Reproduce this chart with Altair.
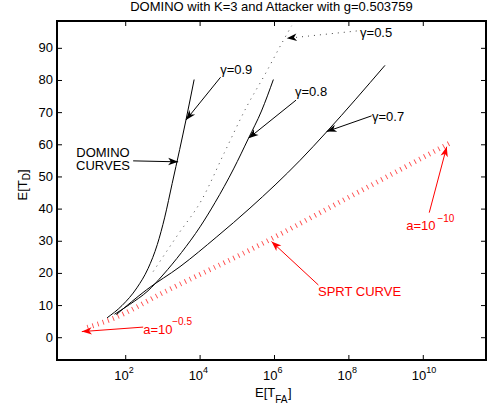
import math
import altair as alt
import pandas as pd

FONT = "Liberation Sans"

# Axis window: log10 E[T_FA] on x, E[T_D] on y
X_LOG_MIN, X_LOG_MAX = 0.153, 11.686
Y_MIN, Y_MAX = -6.93, 98.5
W, H = 429, 339

# DOMINO curves (K=3): log10 E[T_FA] and E[T_D] per gamma
g09_log_tfa = [1.50, 1.90, 2.30, 2.60, 2.85, 3.05, 3.25, 3.45, 3.62, 3.84]
g09_td = [6.2, 10.0, 15.5, 21.5, 29.0, 37.5, 48.0, 58.5, 67.7, 80.3]

g08_log_tfa = [1.70, 2.10, 2.60, 3.00, 3.50, 4.00, 4.40, 4.90, 5.30, 5.65, 5.97]
g08_td = [7.3, 10.3, 14.6, 19.5, 26.5, 34.5, 42.0, 52.5, 62.0, 70.5, 80.3]

g07_log_tfa = [1.75, 2.56, 3.46, 4.45, 5.34, 6.69, 7.40, 8.97]
g07_td = [7.2, 14.9, 22.1, 31.4, 40.3, 55.2, 64.0, 84.7]

g05_log_tfa = [2.74, 3.40, 4.04, 4.65, 5.25, 5.75, 6.24, 6.46]
g05_td = [20.6, 32.0, 42.8, 57.5, 71.8, 82.0, 92.5, 97.0]

# SPRT curve
sprt_log_tfa = [0.97, 1.67, 3.00, 5.34, 8.03, 10.72]
sprt_td = [3.2, 6.0, 14.0, 27.3, 43.9, 60.6]

# Tick positions
y_ticks = [0, 10, 20, 30, 40, 50, 60, 70, 80, 90]
x_tick_exponents = [2, 4, 6, 8, 10]

xs = alt.Scale(type="log", domain=[10 ** X_LOG_MIN, 10 ** X_LOG_MAX], nice=False)
ys = alt.Scale(domain=[Y_MIN, Y_MAX], nice=False, zero=False)


def X(f="x"):
    return alt.X(f"{f}:Q", scale=xs, axis=None)


def Y(f="y"):
    return alt.Y(f"{f}:Q", scale=ys, axis=None)


def px(lx):
    return (lx - X_LOG_MIN) / (X_LOG_MAX - X_LOG_MIN) * W


def py(v):
    return (Y_MAX - v) / (Y_MAX - Y_MIN) * H


def curve_df(log_tfa, td):
    return pd.DataFrame({"x": [10 ** v for v in log_tfa], "y": td})


solid = [
    alt.Chart(curve_df(a, b)).mark_line(color="black", strokeWidth=1, interpolate="monotone", clip=True)
    .encode(x=X(), y=Y())
    for a, b in [(g09_log_tfa, g09_td), (g08_log_tfa, g08_td), (g07_log_tfa, g07_td)]
]
dotted = alt.Chart(curve_df(g05_log_tfa, g05_td)).mark_line(
    color="#444444", strokeWidth=1, strokeDash=[1, 5], interpolate="monotone", clip=True
).encode(x=X(), y=Y())
sprt = alt.Chart(curve_df(sprt_log_tfa, sprt_td)).mark_line(
    color="#ff2a2a", strokeWidth=5, strokeDash=[0.9, 4.5], strokeCap="butt",
    interpolate="monotone", clip=True, opacity=0.85
).encode(x=X(), y=Y())

# Annotation arrows: tail (log10 x, y) -> tip (log10 x, y)
arrow_tail_lx = [4.55, 6.58, 8.61, 2.20, 7.18, 10.16, 2.47]
arrow_tail_y = [81.0, 73.9, 69.0, 55.0, 16.4, 38.9, 3.3]
arrow_tip_lx = [3.62, 5.30, 7.40, 3.41, 5.92, 10.63, 0.82]
arrow_tip_y = [67.7, 62.0, 64.1, 54.7, 29.9, 59.4, 1.9]
arrow_color = ["black", "black", "black", "black", "#ff0000", "#ff0000", "#ff0000"]

dotted_tail_lx, dotted_tail_y = [8.21], [95.4]
dotted_tip_lx, dotted_tip_y = [6.33], [93.1]


def arrow_df(tlx, ty, hlx, hy, colors):
    rows = []
    for a, b, c, d, col in zip(tlx, ty, hlx, hy, colors):
        ang = math.degrees(math.atan2(py(d) - py(b), px(c) - px(a))) % 360
        rows.append({"x": 10 ** a, "y": b, "x2": 10 ** c, "y2": d, "angle": ang, "color": col})
    return pd.DataFrame(rows)


arrows = arrow_df(arrow_tail_lx, arrow_tail_y, arrow_tip_lx, arrow_tip_y, arrow_color)
darrows = arrow_df(dotted_tail_lx, dotted_tail_y, dotted_tip_lx, dotted_tip_y, ["black"])

HEAD = "M0,0 L-2,-0.75 L-1.45,0 L-2,0.75 Z"

shafts = alt.Chart(arrows).mark_rule(strokeWidth=1).encode(
    x=X(), y=Y(), x2="x2:Q", y2="y2:Q", color=alt.Color("color:N", scale=None)
)
dshaft = alt.Chart(darrows).mark_rule(strokeWidth=1, strokeDash=[1, 5], color="#444444").encode(
    x=X(), y=Y(), x2="x2:Q", y2="y2:Q"
)
heads = alt.Chart(pd.concat([arrows, darrows])).mark_point(
    shape=HEAD, filled=True, size=100, opacity=1, strokeWidth=0
).encode(
    x=alt.X("x2:Q", scale=xs, axis=None), y=alt.Y("y2:Q", scale=ys, axis=None),
    angle=alt.Angle("angle:Q", scale=None), color=alt.Color("color:N", scale=None)
)

# Annotation texts (left edge at log10 x, vertical centre at y)
note_text = ["\u03b3=0.5", "\u03b3=0.9", "\u03b3=0.8", "\u03b3=0.7", "SPRT CURVE", "a=10", "a=10"]
note_lx = [8.30, 4.54, 6.55, 8.62, 7.17, 9.54, 2.47]
note_y = [94.9, 83.2, 76.4, 68.6, 14.2, 34.7, 2.4]
note_color = ["black", "black", "black", "black", "#ff0000", "#ff0000", "#ff0000"]

sup_text = ["\u221210", "\u22120.5"]
sup_lx = [10.38, 3.25]
sup_y = [36.9, 4.9]

domino_text = ["DOMINO", "CURVES"]
domino_lx = [1.39, 1.39]
domino_y = [57.6, 53.4]

notes = alt.Chart(pd.DataFrame({
    "x": [10 ** v for v in note_lx], "y": note_y, "t": note_text, "c": note_color
})).mark_text(align="left", baseline="middle", font=FONT, fontSize=13).encode(
    x=X(), y=Y(), text="t:N", color=alt.Color("c:N", scale=None)
)
sups = alt.Chart(pd.DataFrame({
    "x": [10 ** v for v in sup_lx], "y": sup_y, "t": sup_text
})).mark_text(align="left", baseline="middle", font=FONT, fontSize=10, color="#ff0000").encode(
    x=X(), y=Y(), text="t:N"
)
domino = alt.Chart(pd.DataFrame({
    "x": [10 ** v for v in domino_lx], "y": domino_y, "t": domino_text
})).mark_text(align="center", baseline="middle", font=FONT, fontSize=13, color="black").encode(
    x=X(), y=Y(), text="t:N"
)

# Inward ticks on all four sides
yt = pd.DataFrame({"y": y_ticks})
xt = pd.DataFrame({"x": [10 ** e for e in x_tick_exponents], "e": [str(e) for e in x_tick_exponents]})
tick_style = dict(color="black", strokeWidth=1)
ticks = [
    alt.Chart(yt).mark_rule(**tick_style).encode(y=Y(), x=alt.value(0), x2=alt.value(5)),
    alt.Chart(yt).mark_rule(**tick_style).encode(y=Y(), x=alt.value(W - 5), x2=alt.value(W)),
    alt.Chart(xt).mark_rule(**tick_style).encode(x=X(), y=alt.value(H - 5), y2=alt.value(H)),
    alt.Chart(xt).mark_rule(**tick_style).encode(x=X(), y=alt.value(0), y2=alt.value(5)),
]

ylabels = alt.Chart(yt).mark_text(align="right", baseline="middle", font=FONT, fontSize=13, dx=-4).encode(
    y=Y(), x=alt.value(0), text="y:Q"
)
xlab_base = alt.Chart(xt).transform_calculate(b="'10'").mark_text(
    align="right", baseline="middle", font=FONT, fontSize=13, dx=3
).encode(x=X(), y=alt.value(H + 16), text="b:N")
xlab_exp = alt.Chart(xt).mark_text(
    align="left", baseline="middle", font=FONT, fontSize=9, dx=3
).encode(x=X(), y=alt.value(H + 10), text="e:N")


def label(txt, x, y, size=13, angle=0, align="left", color="black"):
    return alt.Chart(pd.DataFrame({"t": [txt]})).mark_text(
        align=align, baseline="middle", font=FONT, fontSize=size, angle=angle, color=color
    ).encode(x=alt.value(x), y=alt.value(y), text="t:N")


title = label("DOMINO with K=3 and Attacker with g=0.503759", W / 2, -14, align="center")

# x title E[T_FA]
xt1 = label("E[T", 198, 371.5)
xt2 = label("FA", 218.2, 379, size=10)
xt3 = label("]", 231, 371.5)
# y title E[T_D], rotated
yt1 = label("E[T", -34, 179.5, angle=270)
yt2 = label("D", -30, 159.3, size=10, angle=270)
yt3 = label("]", -34, 152.1, angle=270)

chart = alt.layer(
    sprt, dotted, *solid, shafts, dshaft, heads, notes, sups, domino,
    *ticks, ylabels, xlab_base, xlab_exp, title, xt1, xt2, xt3, yt1, yt2, yt3
).properties(
    width=W, height=H,
    autosize=alt.AutoSizeParams(type="none"),
    padding={"left": 57, "top": 21, "right": 1, "bottom": 51},
).configure_view(stroke="black", strokeWidth=2)

chart.save("out.html", embed_options={"renderer": "svg", "actions": False})
